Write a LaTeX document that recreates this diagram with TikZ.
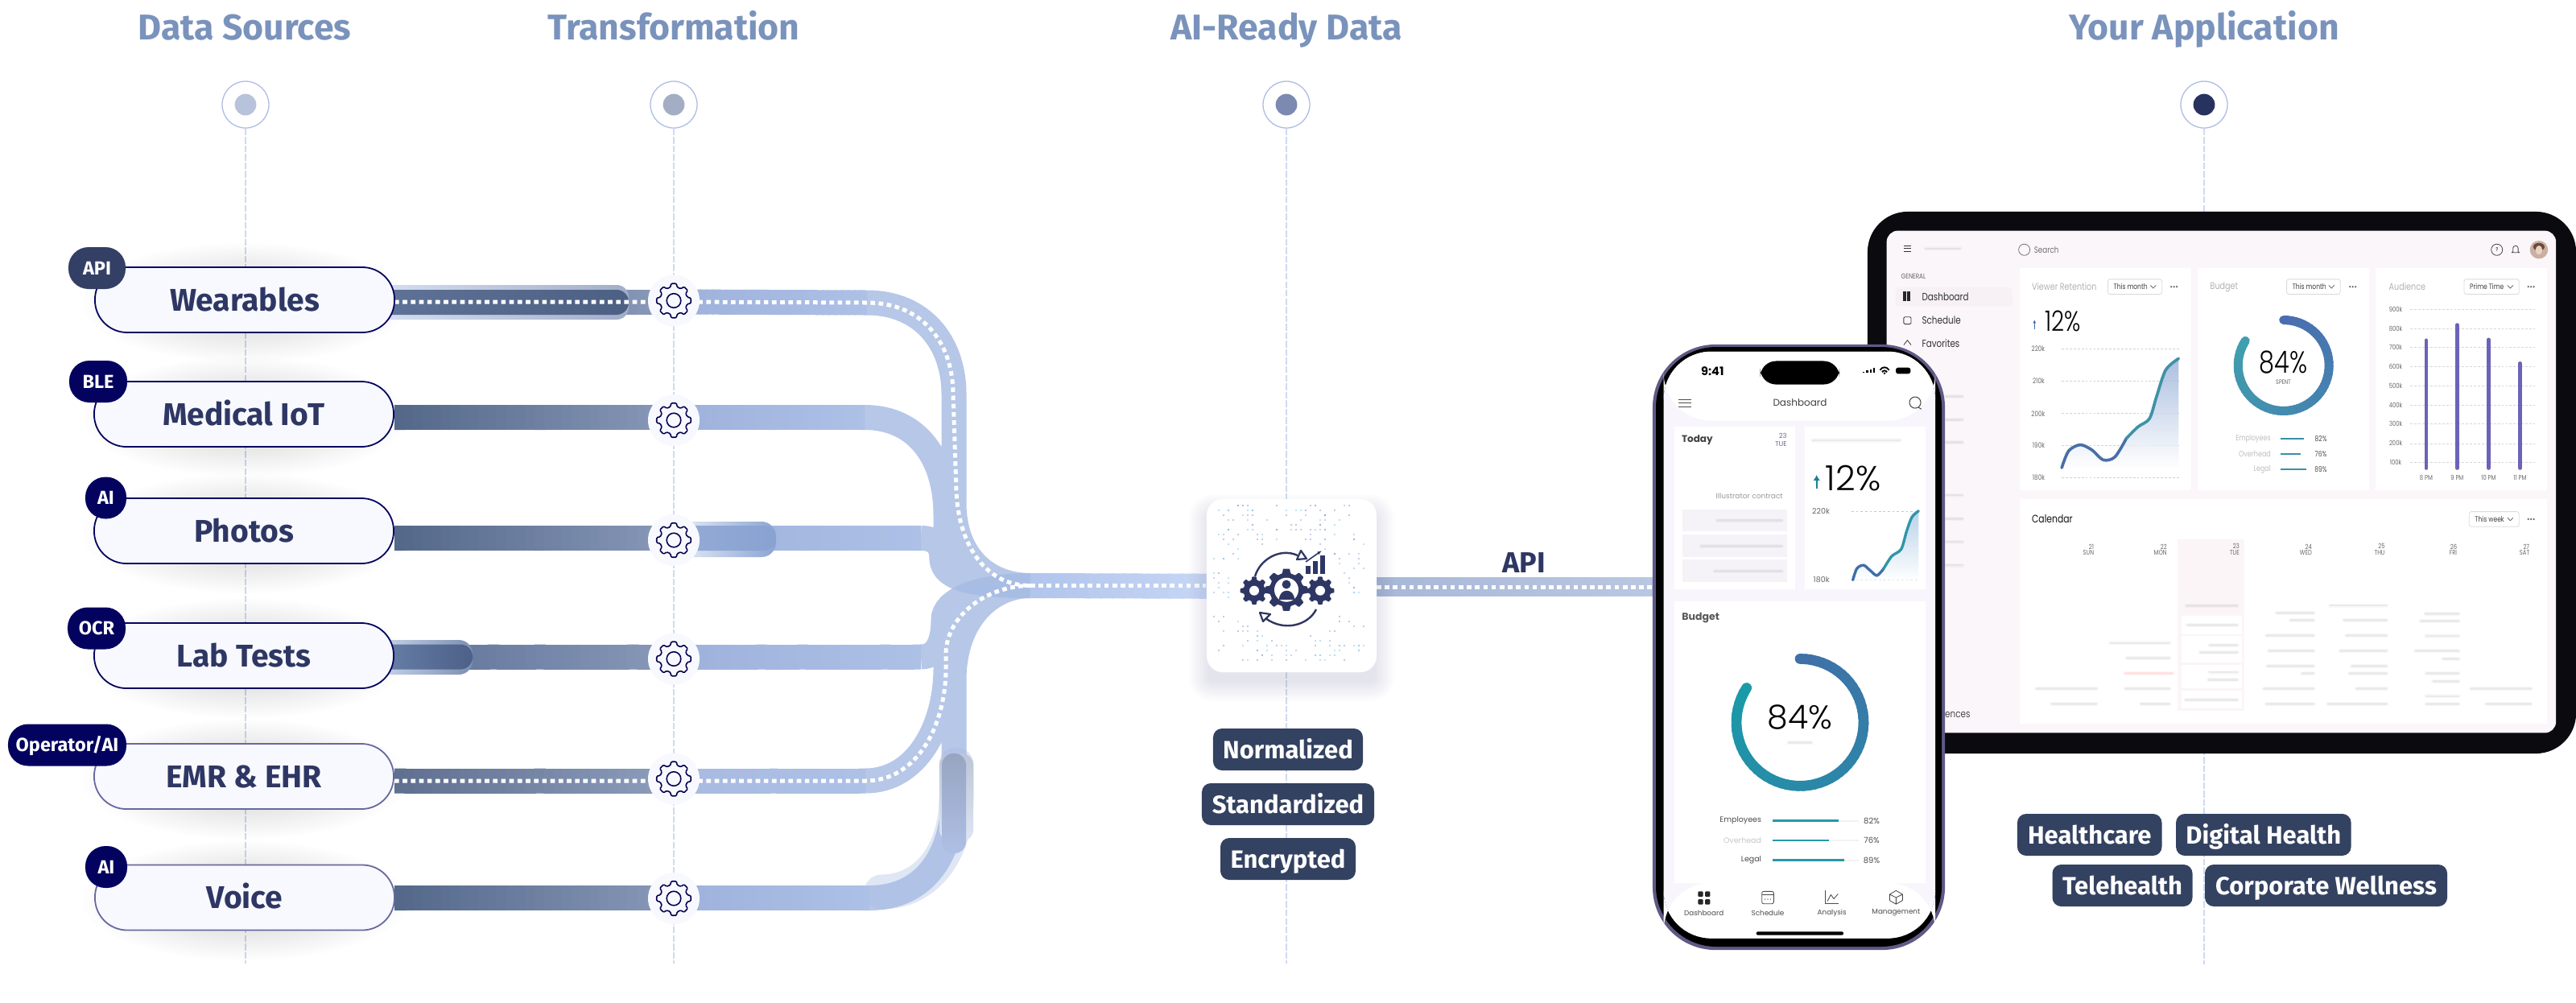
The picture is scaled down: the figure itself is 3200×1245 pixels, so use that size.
\documentclass[tikz,border=0pt]{standalone}
\usepackage{fontspec}
\usetikzlibrary{calc,arrows.meta}
\setmainfont{Fira Sans}
\newfontfamily\pop{Poppins}
\newfontfamily\popn[FakeStretch=0.8]{Poppins}
\newfontfamily\popl{Poppins Light}
\newfontfamily\popln[FakeStretch=0.8]{Poppins Light}
\def\PX{0.7113pt}
\newcommand\pxf[1]{\fontsize{\fpeval{#1*0.7113}}{\fpeval{#1*0.85}}\selectfont}
\newcount\nn
\newcommand\lab[5][]{\global\advance\nn by 1\relax\node[inner sep=0pt,#1] (t\the\nn) at (#2,#3) {\pxf{#4}#5};}
\newcommand\dc[1]{\definecolor{c#1}{HTML}{#1}}
\dc{B7C3DA}\dc{A3AEC5}\dc{7B8AB0}\dc{28325F}\dc{DFE6F4}\dc{566A8C}\dc{8A9ABA}\dc{54688A}\dc{8898B8}\dc{5E7298}\dc{5F7090}\dc{8D9DBC}\dc{9DB1DB}\dc{ADC0E6}\dc{A8BADF}\dc{D5DFF1}\dc{A2AEC8}\dc{5F7398}\dc{4C6083}\dc{E6ECF7}\dc{8AA4D2}\dc{95ABD6}\dc{88A2D1}\dc{C9D5EA}\dc{7C8EB2}\dc{6880A9}\dc{4D6088}\dc{98A5C1}\dc{AEBFE5}\dc{B2C5EC}\dc{DBE6FD}\dc{A8B8D8}\dc{BAC7E2}\dc{343F66}\dc{8FB4E8}\dc{7FD0E6}\dc{A193C8}\dc{0B0A0F}\dc{FBF6F9}\dc{C9B0A2}\dc{6B4A3C}\dc{EAD2C2}\dc{F7F0F4}\dc{3E6FA0}\dc{8FAAD6}\dc{4A6FA8}\dc{3F92A6}\dc{3A8FA8}\dc{6A64B8}\dc{FBF5F8}\dc{3F9FAE}\dc{5E5A85}\dc{F8F6FC}\dc{6A6AA0}\dc{F5F3F8}\dc{1F7F96}\dc{A8C8E6}\dc{3F6FA8}\dc{2F96A8}\dc{4070A8}\dc{1A9AA8}\dc{BCC5D7}\dc{DEE5F3}
\definecolor{navy}{HTML}{03035F}
\definecolor{ink}{HTML}{2E3764}
\definecolor{slate}{HTML}{344261}
\definecolor{titleblue}{HTML}{7A93BC}
\definecolor{vline}{HTML}{CFDAF0}
\definecolor{ringc}{HTML}{AEBDE4}
\definecolor{tubelo}{HTML}{A6BBE4}
\definecolor{teal}{HTML}{2699A8}
\definecolor{bluedonut}{HTML}{4A6DB0}
\definecolor{ghostwhite}{HTML}{F8F9FE}
\tikzset{
 x=0.025cm,y=-0.025cm,
 vertline/.style={draw=vline,line width=1.3*\PX,dash pattern=on 6pt off 1.5pt},
 pill/.style={draw=navy,line width=1.8*\PX,fill=ghostwhite,rounded corners=40*\PX,minimum width=372*\PX,minimum height=81*\PX,inner sep=0pt,text=ink,text height=27*\PX,text depth=0pt,font=\bfseries\pxf{39}},
 softpill/.style={pill,draw=navy!60!white},
 badge/.style={fill=navy,rounded corners=25*\PX,minimum height=52*\PX,inner sep=0pt,text=white,text height=16*\PX,text depth=0pt,font=\bfseries\pxf{23.5}},
 tag/.style={fill=slate,rounded corners=11*\PX,minimum height=52*\PX,inner sep=0pt,text=white,text height=22*\PX,text depth=0pt,font=\bfseries\pxf{31}},
 head/.style={inner sep=0pt,anchor=base,text=titleblue,font=\bfseries\pxf{44.5}},
 ring/.style={circle,draw=ringc,fill=white,line width=1.3*\PX,minimum size=58*\PX,inner sep=0pt},
 gearbg/.style={circle,fill=ghostwhite,minimum size=64*\PX,inner sep=0pt},
 curvetube/.style={draw=tubelo,draw opacity=.82,line width=31*\PX,line cap=butt},
 whitedots/.style={draw=white,line width=5*\PX,dash pattern=on 4.05pt off 3.2pt},
 gearline/.style={draw=navy!85!black,line width=1.6*\PX,line join=round,rounded corners=0.9pt},
 gearsolid/.style={fill=ink,line join=round,rounded corners=0.6pt},
}
\newcommand\gradtube[5]{\foreach \i in {0,...,29}{\pgfmathsetmacro\tf{\i/30}\pgfmathsetmacro\tg{min(1,(\i+1.25)/30)}\pgfmathtruncatemacro\tp{100*\i/29}\draw[line width=#5*\PX,color={#4!\tp!#3}] ($(#1)!\tf!(#2)$)--($(#1)!\tg!(#2)$);}}
\newcommand\geartrace[5][]{\path[#1] ({#2+#5*cos(-14)},{#3+#5*sin(-14)}) \foreach \a in {0,45,...,315} { -- ({#2+#5*cos(\a-14)},{#3+#5*sin(\a-14)}) -- ({#2+#4*cos(\a-9)},{#3+#4*sin(\a-9)}) -- ({#2+#4*cos(\a+9)},{#3+#4*sin(\a+9)}) -- ({#2+#5*cos(\a+14)},{#3+#5*sin(\a+14)}) } -- cycle;}
\newcommand\softshadow[6]{\foreach \k in {1,...,9}{\fill[#6,opacity=.013,rounded corners=\fpeval{#5*\k/9*0.7113+3}pt] ({#1-#5*\k/9},{#2-#5*\k/9}) rectangle ({#3+#5*\k/9},{#4+#5*\k/9});}}
\newcommand\pillshadow[2]{\foreach \k in {1,...,12}{\fill[ink,opacity=.008] (#1,#2) ellipse[x radius=(100+8.5*\k)*\PX,y radius=(38+3*\k)*\PX];}}
\newcommand\gradarc[6]{\foreach \i in {0,...,59}{\pgfmathsetmacro\ao{90-5.04*\i}\pgfmathsetmacro\ab{90-5.04*(\i+1.1)}\pgfmathtruncatemacro\tp{100*\i/59}\draw[line width=#4*\PX,line cap=round,color={#6!\tp!#5}] ({#1+#3*cos(\ao)},{#2-#3*sin(\ao)}) -- ({#1+#3*cos(\ab)},{#2-#3*sin(\ab)});}}
\newcommand\blurbar[4][gray]{\draw[#1,line cap=round,line width=3.6pt,opacity=.05] (#2,#3) -- ++(-#4,0);\draw[#1,line cap=round,line width=2pt,opacity=.11] (#2,#3) -- ++(-#4,0);}
\newcommand\ddown[4]{\fill[white,draw=black!14,line width=.6pt,rounded corners=2pt] (#1,#3-21) rectangle (#2,#3+21);\lab[anchor=west,text=black!75]{#1+12}{#3}{9.5}{\popn #4}\draw[black!65,line width=.5pt] (#2-25,#3-4) -- (#2-19,#3+4) -- (#2-13,#3-4);}
\newcommand\dotsthree[2]{\foreach \q in {-6,0,6}{\fill[black!60] (#1+\q,#2) circle[radius=.9pt];}}
\begin{document}
\begin{tikzpicture}
\useasboundingbox (0,0) rectangle (3200,1245);
\fill[white] (0,0) rectangle (3200,1245);
% column heads
\node[head] (hA) at (304,49) {Data Sources};
\node[head] (hB) at (837,49) {Transformation};
\node[head] (hC) at (1598,49) {AI-Ready Data};
\node[head] (hD) at (2738,49) {Your Application};
\node[ring] (rA) at (305,130) {};
\node[ring] (rB) at (837,130) {};
\node[ring] (rC) at (1598,130) {};
\node[ring] (rD) at (2738,130) {};
\fill[cB7C3DA] (rA) circle[radius=13.4*\PX];
\fill[cA3AEC5] (rB) circle[radius=13.4*\PX];
\fill[c7B8AB0] (rC) circle[radius=13.4*\PX];
\fill[c28325F] (rD) circle[radius=13.4*\PX];
\coordinate (eA) at (305,1197);\coordinate (eB) at (837,1197);\coordinate (eC) at (1598,1197);\coordinate (eD) at (2738,1198);
\draw[vertline] (rA) -- (eA);
\draw[vertline] (rB) -- (eB);
\draw[vertline] (rC) -- (eC);
\draw[vertline] (rD) -- (eD);
% shadows
\pillshadow{305}{376}
\pillshadow{305}{518}
\pillshadow{305}{663}
\pillshadow{305}{818}
\pillshadow{305}{968}
\pillshadow{305}{1119}
% tube coordinates
\coordinate (hub) at (1280,727.5);
\coordinate (tW0) at (490,375);\coordinate (tW1) at (837,375);\coordinate (tW2) at (1077,376);
\coordinate (tM0) at (490,518.5);\coordinate (tM1) at (837,518.5);\coordinate (tM2) at (1074,518.5);
\coordinate (tP0) at (490,668.5);\coordinate (tP1) at (837,668.5);\coordinate (tP2) at (1144,668.5);
\coordinate (tL0) at (490,816);\coordinate (tL1) at (837,816);\coordinate (tL2) at (1144,816);
\coordinate (tE0) at (490,970);\coordinate (tE1) at (837,970);\coordinate (tE2) at (1075,970);
\coordinate (tV0) at (490,1115.5);\coordinate (tV1) at (837,1115.5);\coordinate (tV2) at (1080,1115.5);
\coordinate (vTop) at (1188,950);\coordinate (vFoot) at (1095,1108);
\coordinate (apiA) at (1710,729);\coordinate (apiB) at (2056,729);
% voice highlight under the curve
\draw[cDFE6F4,line width=43*\PX,line cap=round] (vTop) -- (1188,990) .. controls (1188,1060) and (1150,1108) .. (vFoot);
% curved tube parts: upper and lower families, each stroked as one shape
\draw[curvetube] (tW2) .. controls (1145,376) and (1185,425) .. (1185,490) -- (1185,625) .. controls (1185,690) and (1225,727.5) .. (hub)
 (tM2) .. controls (1140,518.5) and (1175,570) .. (1175,640) -- (1175,665) .. controls (1175,695) and (1215,727.5) .. (hub)
 (tP2) .. controls (1165,668.5) and (1170,680) .. (1170,695) .. controls (1172,720) and (1210,727.5) .. (hub);
\draw[curvetube] (tL2) .. controls (1165,816) and (1172,795) .. (1172,770) .. controls (1172,745) and (1215,727.5) .. (hub)
 (tE2) .. controls (1140,970) and (1175,900) .. (1175,830) -- (1175,800) .. controls (1175,760) and (1225,727.5) .. (hub)
 (tV2) .. controls (1150,1115.5) and (1185,1060) .. (1185,985) -- (1185,845) .. controls (1185,770) and (1230,727.5) .. (hub);
% straight gradients
\gradtube{tW0}{tW1}{c566A8C}{c8A9ABA}{31}
\gradtube{tM0}{tM1}{c54688A}{c8898B8}{31}
\gradtube{tP0}{tP1}{c54688A}{c8898B8}{31}
\gradtube{tL0}{tL1}{c5E7298}{c8898B8}{31}
\gradtube{tE0}{tE1}{c5F7090}{c8D9DBC}{31}
\gradtube{tV0}{tV1}{c54688A}{c8898B8}{31}
\gradtube{tW1}{tW2}{c9DB1DB}{cADC0E6}{31}
\gradtube{tM1}{tM2}{c9DB1DB}{cADC0E6}{31}
\gradtube{tP1}{tP2}{c9DB1DB}{cADC0E6}{31}
\gradtube{tL1}{tL2}{c9DB1DB}{cADC0E6}{31}
\gradtube{tE1}{tE2}{cA8BADF}{cADC0E6}{31}
\gradtube{tV1}{tV2}{c9DB1DB}{cADC0E6}{31}
% pulse capsules
\shade[left color=cD5DFF1,right color=cA2AEC8,rounded corners=15*\PX] (470,354) rectangle (781,397);
\shade[left color=c5F7398,right color=c4C6083,rounded corners=15*\PX] (470,360) rectangle (781,391);
\shade[left color=cE6ECF7,right color=c8AA4D2,rounded corners=18*\PX] (840,648) rectangle (964,692);
\shade[left color=c95ABD6,right color=c88A2D1,rounded corners=15*\PX] (840,653) rectangle (964,684);
\shade[left color=cC9D5EA,right color=c7C8EB2,rounded corners=17*\PX] (470,795) rectangle (587,838);
\shade[left color=c6880A9,right color=c4D6088,rounded corners=15*\PX] (470,800.5) rectangle (587,831.5);
\shade[top color=cBCC5D7,bottom color=cDEE5F3,rounded corners=14*\PX] (1167,936) rectangle (1209,1045);
\shade[top color=c98A5C1,bottom color=cAEBFE5,rounded corners=14*\PX] (1170,936) rectangle (1200,1060);
% main band + dotted flows
\gradtube{hub}{apiA}{cB2C5EC}{cDBE6FD}{31}
\gradtube{apiA}{apiB}{cA8B8D8}{cBAC7E2}{24}
\draw[whitedots] (tW0) -- (tW1) -- (tW2) .. controls (1145,376) and (1184,425) .. (1184,490) -- (1188,610) .. controls (1190,670) and (1220,727.5) .. (hub);
\draw[whitedots] (tE0) -- (tE1) -- (tE2) .. controls (1140,970) and (1175,900) .. (1175,830) -- (1175,810) .. controls (1177,765) and (1225,727.5) .. (hub);
\draw[whitedots] (hub) -- (1498,727.5);
\draw[whitedots] (apiA) -- (apiB);
\lab[text=ink,font=\bfseries]{1893}{699}{36}{API}
% gears
\node[gearbg] (gW) at (837,373.5) {};
\node[gearbg] (gM) at (837,522) {};
\node[gearbg] (gP) at (837,671) {};
\node[gearbg] (gL) at (837,818.5) {};
\node[gearbg] (gE) at (837,967.5) {};
\node[gearbg] (gV) at (837,1116) {};
\foreach \gy in {373.5,522,671,818.5,967.5,1116}{
 \geartrace[gearline]{837}{\gy}{21.5}{17.2}
 \draw[gearline] (837,\gy) circle[radius=8.8*\PX];
}
% pills
\node[pill] (pW) at (304,372.5) {Wearables};
\node[pill] (pM) at (303,514.5) {Medical IoT};
\node[pill] (pP) at (303,659.5) {Photos};
\node[pill] (pL) at (303,814.5) {Lab Tests};
\node[softpill] (pE) at (303,964.5) {EMR \& EHR};
\node[softpill] (pV) at (304,1115) {Voice};
% badges
\node[badge,fill=c343F66,minimum width=71*\PX] (bA) at (120.5,333) {API};
\node[badge,minimum width=72*\PX] (bB) at (122,474) {BLE};
\node[badge,minimum width=51*\PX] (bC) at (131.5,618.5) {AI};
\node[badge,minimum width=72*\PX] (bD) at (120,780.5) {OCR};
\node[badge,minimum width=147*\PX] (bE) at (83.5,925.5) {Operator/AI};
\node[badge,minimum width=52*\PX] (bF) at (132,1077) {AI};
% centre card
\softshadow{1503}{640}{1706}{845}{26}{ink}
\node[fill=white,rounded corners=20*\PX,minimum width=211*\PX,minimum height=215*\PX,inner sep=0pt] (card) at (1604.5,727.5) {};
\pgfmathsetseed{7315}
\foreach \k in {1,...,300}{
 \pgfmathsetmacro\dx{1508+6*int(32*rnd)}
 \pgfmathsetmacro\dy{628+6*int(33*rnd)}
 \pgfmathtruncatemacro\ci{int(3*rnd)}
 \pgfmathtruncatemacro\inside{((\dx-1600)^2/5500+(\dy-732)^2/3600)<1}
 \ifnum\inside=0
 \ifcase\ci\fill[c8FB4E8,opacity=.7](\dx,\dy) circle[radius=.8pt];
 \or\fill[c7FD0E6,opacity=.7](\dx,\dy) circle[radius=.8pt];
 \else\fill[cA193C8,opacity=.7](\dx,\dy) circle[radius=.8pt];\fi
 \fi
}
% centre icon
\geartrace[gearsolid]{1598}{732.7}{26.5}{21}
\geartrace[gearsolid]{1558}{733.7}{17.5}{13.5}
\geartrace[gearsolid]{1640}{733.7}{17.5}{13.5}
\fill[white] (1598,732.7) circle[radius=15*\PX];
\fill[white] (1558,733.7) circle[radius=6*\PX];
\fill[white] (1640,733.7) circle[radius=6*\PX];
\fill[ink] (1598,726) circle[radius=5.5*\PX];
\fill[ink] (1588.5,745) .. controls (1588.5,730) and (1607.5,730) .. (1607.5,745) -- cycle;
\draw[ink,line width=2.4*\PX] (1559,716) .. controls (1565,695) and (1590,680) .. (1612,690);
\draw[ink,line width=2.2*\PX,line join=round] (1611,695) -- (1616,684) -- (1623,694) -- cycle;
\draw[ink,line width=2.4*\PX] (1635,757) .. controls (1625,777) and (1595,785) .. (1572,768);
\draw[ink,line width=2.2*\PX,line join=round] (1565,761) -- (1578,763) -- (1569,772) -- cycle;
\fill[ink] (1622,703) rectangle (1628,713);
\fill[ink] (1631,697) rectangle (1637,713);
\fill[ink] (1640,690) rectangle (1646,713);
\draw[ink,line width=1.6*\PX,-{Latex[length=4pt]}] (1622,698) -- (1642,684);
% data tags
\node[tag,minimum width=186*\PX] (tagA) at (1600,931) {Normalized};
\node[tag,minimum width=214*\PX] (tagB) at (1600,999) {Standardized};
\node[tag,minimum width=168*\PX] (tagC) at (1600,1067) {Encrypted};
\node[tag,minimum width=179.5*\PX] (tagD) at (2595.7,1037) {Healthcare};
\node[tag,minimum width=217.5*\PX] (tagE) at (2811.8,1037) {Digital Health};
\node[tag,minimum width=174*\PX] (tagF) at (2636.5,1100) {Telehealth};
\node[tag,minimum width=301*\PX] (tagG) at (2889.5,1100) {Corporate Wellness};
% ---------- tablet ----------
\node[fill=c0B0A0F,rounded corners=50*\PX,minimum width=880*\PX,minimum height=673*\PX,inner sep=0pt] (tablet) at (2760,599.5) {};
\begin{scope}[shift={(2300,250)},x=0.01435cm,y=-0.01116cm]
\fill[cFBF6F9,rounded corners=10pt] (76,82) rectangle (1525,1480);
\foreach \xa/\xb in {365/735,750/1120,1135/1505}{\fill[white] (\xa,185) rectangle (\xb,805);}
\fill[white] (365,830) rectangle (1505,1455);
% top bar
\foreach \q in {124,132,140}{\draw[black!80,line width=.8pt] (113,\q) -- (129,\q);}
\blurbar{235}{132}{75}
\draw[black!60,line width=.5pt] (374,135) circle[radius=5pt];
\lab{422}{135}{11}{\popn\color{black!55}Search}
\draw[black!70,line width=.6pt] (1397,135) circle[radius=5pt];
\lab{1397}{135}{7}{\popn ?}
\draw[black!70,line width=.6pt,line join=round] (1429,143) -- (1432,140) -- (1432,130) .. controls (1432,122) and (1443,122) .. (1443,130) -- (1443,140) -- (1446,143) -- cycle;
\fill[cC9B0A2] (1488,135) circle[radius=8pt];
\fill[c6B4A3C] (1488,127) ellipse[x radius=5pt,y radius=3.5pt];
\fill[cEAD2C2] (1488,136) ellipse[x radius=3pt,y radius=4pt];
% sidebar
\lab[anchor=west]{107}{210}{9}{\popn\color{black!60}GENERAL}
\fill[cF7F0F4,rounded corners=3pt] (95,240) rectangle (348,292);
\foreach \qx/\qy in {115/257,123/257,115/270,123/270}{\fill[black!85] (\qx-3,\qy-5) rectangle (\qx+4,\qy+7);}
\lab[anchor=west]{152}{266}{13}{\popn\color{black!80}Dashboard}
\draw[black!75,line width=.6pt,rounded corners=1pt] (113,322) rectangle (129,342);
\lab[anchor=west]{152}{331}{13}{\popn\color{black!80}Schedule}
\draw[black!75,line width=.6pt] (113,400) -- (121,387) -- (129,400);
\lab[anchor=west]{152}{396}{13}{\popn\color{black!80}Favorites}
\foreach \q in {543,608,672,818,884,948,1013}{\blurbar{240}{\q}{36}}
\lab[anchor=west]{202}{1430}{13}{\popn\color{black!70}ences}
% card 1
\lab[anchor=west]{390}{238}{12}{\popn\color{black!30}Viewer Retention}
\ddown{555}{672}{238}{This month}\dotsthree{698}{238}
\draw[c3E6FA0,line width=1pt,-{Latex[length=3pt,width=3pt]}] (396,356) -- (396,330);
\lab{458}{333}{35}{\popln 12\%}
\foreach \q/\w/\yy in {220k/404/410,210k/405/500,200k/404/591,190k/405/680,180k/405/770}{
 \lab{\w}{\yy}{9}{\popn\color{black!60}\q}
 \draw[black!18,line width=.4pt,dash pattern=on 2pt off 1.5pt] (455,\yy) -- (710,\yy);}
\shade[top color=c8FAAD6,bottom color=white,opacity=.75] (455,742) plot[smooth] coordinates {(455,742)(470,695)(495,678)(520,692)(545,720)(570,712)(595,660)(620,628)(645,605)(660,545)(680,470)(708,438)} -- (708,742) -- cycle;
\draw[c4A6FA8,line width=2.6pt,line cap=round] plot[smooth] coordinates {(455,742)(470,695)(495,678)(520,692)(545,720)(570,712)(595,660)};
\draw[c3F92A6,line width=2.6pt,line cap=round] plot[smooth] coordinates {(595,660)(620,628)(645,605)(660,545)(680,470)(708,438)};
% card 2
\lab[anchor=west]{776}{238}{12}{\popn\color{black!30}Budget}
\ddown{942}{1058}{238}{This month}\dotsthree{1085}{238}
\lab{935}{448}{38}{\popln 84\%}
\lab{935}{503}{8}{\popn\color{black!60}SPENT}
\foreach \nm/\yy/\bx/\pc in {Employees/662/980/82,Overhead/704/973/76,Legal/746/985/89}{
 \lab[anchor=east]{908}{\yy}{10}{\popn\color{black!25}\nm}
 \draw[c3A8FA8,line width=1.4pt] (929,\yy) -- (\bx,\yy);
 \lab{1016}{\yy}{9.5}{\popn\color{black!70}\pc\%}}
% card 3
\lab[anchor=west]{1163}{238}{12}{\popn\color{black!30}Audience}
\ddown{1326}{1445}{238}{Prime Time}\dotsthree{1471}{238}
\foreach \q/\yy in {900k/301,800k/354,700k/407,600k/461,500k/514,400k/567,300k/620,200k/674,100k/727}{
 \lab{1178}{\yy}{8.5}{\popn\color{black!60}\q}
 \draw[black!16,line width=.4pt,dash pattern=on 2pt off 1.5pt] (1210,\yy) -- (1480,\yy);}
\foreach \bx/\tp/\lb in {1244/387/8 PM,1311/344/9 PM,1379/385/10 PM,1447/451/11 PM}{
 \draw[c6A64B8,line width=3.2pt,line cap=round] (\bx,\tp) -- (\bx,743);
 \lab{\bx}{770}{8.5}{\popn\color{black!60}\lb}}
% calendar
\lab[anchor=west]{390}{885}{13.5}{\popn\color{black!92}Calendar}
\ddown{1337}{1445}{885}{This week}\dotsthree{1471}{885}
\fill[cFBF5F8] (706,942) rectangle (850,1418);
\foreach \ya/\yb in {1155/1205,1210/1285,1290/1355,1362/1412}{\fill[white] (715,\ya) rectangle (845,\yb);}
\foreach \xr/\dn/\dw in {525/21/SUN,683/22/MON,840/23/TUE,997/24/WED,1155/25/THU,1311/26/FRI,1468/27/SAT}{
 \lab[anchor=east]{\xr}{961}{8.5}{\popn\color{black!60}\dn}
 \lab[anchor=east]{\xr}{979}{8.5}{\popn\color{black!60}\dw}}
\foreach \xr/\yy/\w in {530/1357/130,530/1399/97,688/1230/128,688/1272/92,688/1357/95,688/1399/62,835/1126/110,835/1180/108,835/1235/60,835/1256/80,835/1311/60,835/1333/62,835/1388/112,1000/1146/80,1000/1167/50,1000/1209/102,1000/1251/97,1000/1294/100,1000/1315/25,1000/1357/107,1000/1399/102,1158/1125/122,1158/1167/92,1158/1209/87,1158/1251/100,1158/1294/75,1158/1315/80,1158/1357/65,1158/1399/127,1314/1148/72,1314/1168/82,1314/1210/70,1314/1252/93,1314/1273/33,1314/1315/70,1314/1336/55,1314/1378/70,1314/1399/70,1471/1357/130,1471/1399/97}{\blurbar{\xr}{\yy}{\w}}
\blurbar[red!70!white]{695}{1314}{103}
\end{scope}
% tablet donut
\gradarc{2836.7}{454}{56.5}{11}{bluedonut}{c3F9FAE}
% ---------- phone ----------
\node[fill=c5E5A85,rounded corners=78*\PX,minimum width=363*\PX,minimum height=752*\PX,inner sep=0pt] (phone) at (2234.5,804) {};
\fill[black,rounded corners=75*\PX] (2057,431) rectangle (2412,1176);
\begin{scope}[shift={(2040,400)},x=0.008333cm,y=-0.012755cm]
\fill[cF8F6FC,rounded corners=42pt] (80,72) rectangle (1092,1500);
\fill[white,rounded corners=42pt] (80,72) rectangle (1092,240);
\fill[white] (120,255) rectangle (570,650);
\fill[white] (605,255) rectangle (1055,650);
\fill[white] (120,680) rectangle (1055,1365);
\fill[white,rounded corners=42pt] (80,1365) rectangle (1092,1500);
\lab{262}{120}{14.5}{\pop\bfseries 9:41}
\fill[black,rounded corners=14pt] (440,95) rectangle (735,152);
\foreach \bx/\bh in {822/3,835/6,848/9,860/13}{\fill[black] (\bx,124) rectangle ++(7,-\bh);}
\draw[black,line width=1.3pt] (886,117) .. controls (896,108) and (910,108) .. (920,117);
\draw[black,line width=1.3pt] (894,122) .. controls (899,117) and (907,117) .. (912,122);
\fill[black] (903,125) circle[radius=1pt];
\fill[black,rounded corners=2pt] (945,111) rectangle (1000,126);
\foreach \q in {188,197,207}{\draw[black!70,line width=.6pt] (135,\q) -- (182,\q);}
\lab{588}{197}{12}{\pop\color{black!75}Dashboard}
\draw[black!75,line width=.7pt] (1017,196) circle[radius=5pt];
\draw[black!75,line width=.7pt] (1030,208) -- (1040,212);
% today
\lab{205}{288}{12}{\pop\bfseries\color{black!75}Today}
\lab[anchor=east]{540}{277}{8.5}{\pop\color{c6A6AA0}23}
\lab[anchor=east]{540}{297}{8.5}{\pop\color{c6A6AA0}TUE}
\lab[anchor=east]{525}{423}{9}{\pop\color{black!40}Illustrator contract}
\foreach \ya/\yb/\ym/\w in {457/510/483/240,517/572/545/300,578/632/607/250}{
 \fill[cF5F3F8] (150,\ya) rectangle (540,\yb);
 \blurbar{520}{\ym}{\w}}
% retention
\blurbar{960}{288}{325}
\draw[c1F7F96,line width=1.6pt,-{Latex[length=5pt,width=6pt]}] (650,405) -- (650,372);
\lab{786}{380}{43}{\popl 12\%}
\lab{666}{460}{9.5}{\pop\color{black!60}220k}
\lab{668}{628}{9.5}{\pop\color{black!60}180k}
\draw[black!22,line width=.4pt,dash pattern=on 2pt off 2pt] (780,460) -- (1030,460);
\draw[black!22,line width=.4pt,dash pattern=on 2pt off 2pt] (780,628) -- (1030,628);
\shade[top color=cA8C8E6,bottom color=white,opacity=.8] (785,628) plot[smooth] coordinates {(785,628)(800,600)(825,592)(850,605)(875,617)(900,600)(930,570)(965,553)(985,510)(1005,475)(1030,460)} -- (1030,628) -- cycle;
\draw[c3F6FA8,line width=2.4pt,line cap=round] plot[smooth] coordinates {(785,628)(800,600)(825,592)(850,605)(875,617)(900,600)};
\draw[c2F96A8,line width=2.4pt,line cap=round] plot[smooth] coordinates {(900,600)(930,570)(965,553)(985,510)(1005,475)(1030,460)};
% budget
\lab{218}{720}{12.5}{\pop\bfseries\color{black!65}Budget}
\lab{588}{963}{41}{\popl 84\%}
\blurbar{630}{1024}{85}
\foreach \nm/\yy/\bx/\pc/\cc in {Employees/1214/733/82/70,Overhead/1262/695/76/22,Legal/1310/752/89/70}{
 \lab[anchor=east]{445}{\yy}{9.5}{\pop\color{black!\cc}\nm}
 \draw[black!5,line width=1.4pt] (487,\yy) -- (808,\yy);
 \draw[teal,line width=1.6pt] (487,\yy) -- (\bx,\yy);
 \lab{855}{\yy}{10}{\pop\color{black!70}\pc\%}}
% nav
\foreach \qx/\qy in {208/1386,234/1386,208/1405,234/1405}{\fill[black!85,rounded corners=.8pt] (\qx,\qy) rectangle ++(19,13);}
\draw[black!70,line width=.6pt,rounded corners=1.5pt] (446,1386) rectangle (490,1416);
\draw[black!70,line width=.6pt] (446,1394) -- (490,1394);
\foreach \q in {458,468,478}{\fill[black!70] (\q,1405) circle[radius=.5pt];}
\draw[black!70,line width=.6pt] (682,1384) -- (682,1416) -- (732,1416);
\draw[black!70,line width=.6pt] (690,1410) -- (703,1394) -- (714,1404) -- (730,1392);
\draw[black!70,line width=.6pt,line join=round] (946,1384) -- (970,1393) -- (970,1408) -- (946,1417) -- (922,1408) -- (922,1393) -- cycle (922,1393) -- (946,1401) -- (970,1393) (946,1401) -- (946,1417);
\foreach \qx/\nm in {230/Dashboard,468/Schedule,707/Analysis,946/Management}{\lab{\qx}{1438}{8.8}{\pop\color{black!70}\nm}}
\fill[black,rounded corners=1pt] (425,1484) rectangle (750,1492);
\end{scope}
\gradarc{2236}{897.4}{79}{12.7}{c4070A8}{c1A9AA8}
\end{tikzpicture}
\end{document}
